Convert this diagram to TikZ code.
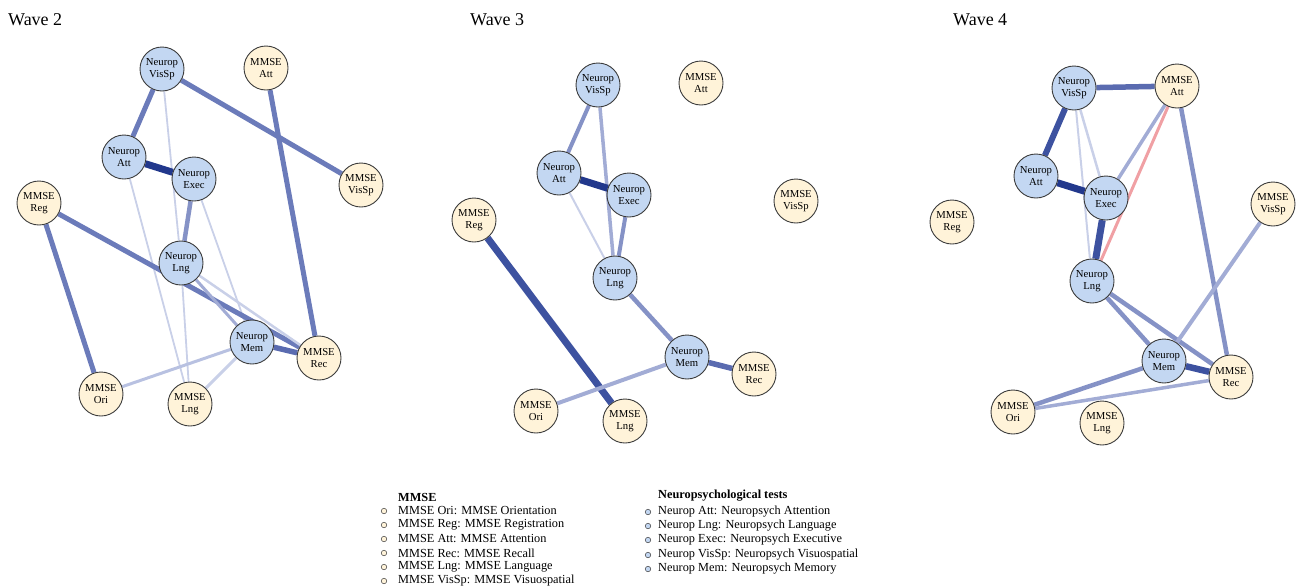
\documentclass[tikz,border=0pt]{standalone}
\usepackage{fontspec}
\setmainfont{Liberation Serif}
\usetikzlibrary{backgrounds}
\definecolor{nfill}{HTML}{C3D7F2}
\definecolor{mfill}{HTML}{FFF3D9}
\definecolor{nborder}{HTML}{3C3C3C}
\definecolor{eA}{HTML}{22388C}
\definecolor{eB}{HTML}{3D52A0}
\definecolor{eC}{HTML}{5A6BB0}
\definecolor{eD}{HTML}{6B7BBA}
\definecolor{eE}{HTML}{8592C6}
\definecolor{eF}{HTML}{A2ACD5}
\definecolor{eH}{HTML}{B8C1E1}
\definecolor{eG}{HTML}{C9D0E8}
\definecolor{eR}{HTML}{F0A0A4}
\begin{document}
\begin{tikzpicture}[x=1pt,y=-1pt,
 base/.style={circle,draw=nborder,line width=0.9pt,minimum size=44pt,inner sep=0pt,align=center,font=\fontsize{10.7}{12.2}\selectfont},
 neu/.style={base,fill=nfill},
 mms/.style={base,fill=mfill},
 ln/.style 2 args={line width=#1pt,draw=#2},
 wtitle/.style={anchor=west,font=\fontsize{18}{20}\selectfont,inner sep=0pt},
 legtext/.style={anchor=west,font=\fontsize{12.3}{14}\selectfont,inner sep=0pt},
 leghead/.style={anchor=west,font=\fontsize{12.3}{14}\selectfont\bfseries,inner sep=0pt},
 dotm/.style={circle,draw=nborder,line width=0.5pt,fill=mfill,minimum size=5.5pt,inner sep=0pt},
 dotn/.style={circle,draw=nborder,line width=0.5pt,fill=nfill,minimum size=5.5pt,inner sep=0pt}]
\useasboundingbox (0,0) rectangle (1301,587);

% titles
\node[wtitle] (t2) at (8,20) {Wave 2};
\node[wtitle] (t3) at (470,20) {Wave 3};
\node[wtitle] (t4) at (953,20) {Wave 4};

% ---------- Wave 2 ----------
\node[neu] (aNV) at (162,69) {Neurop\\VisSp};
\node[mms] (aMA) at (266,68) {MMSE\\Att};
\node[neu] (aNA) at (124,157) {Neurop\\Att};
\node[neu] (aNE) at (194,179) {Neurop\\Exec};
\node[mms] (aMV) at (361,185) {MMSE\\VisSp};
\node[mms] (aMG) at (39,203) {MMSE\\Reg};
\node[neu] (aNL) at (181,263) {Neurop\\Lng};
\node[neu] (aNM) at (252,342) {Neurop\\Mem};
\node[mms] (aMR) at (319,358) {MMSE\\Rec};
\node[mms] (aMO) at (101,394) {MMSE\\Ori};
\node[mms] (aML) at (190,404) {MMSE\\Lng};

% ---------- Wave 3 ----------
\node[neu] (bNV) at (598,85) {Neurop\\VisSp};
\node[mms] (bMA) at (701,83) {MMSE\\Att};
\node[neu] (bNA) at (559,173) {Neurop\\Att};
\node[neu] (bNE) at (629,195) {Neurop\\Exec};
\node[mms] (bMV) at (796,201) {MMSE\\VisSp};
\node[mms] (bMG) at (474,220) {MMSE\\Reg};
\node[neu] (bNL) at (615,278) {Neurop\\Lng};
\node[neu] (bNM) at (687,357) {Neurop\\Mem};
\node[mms] (bMR) at (754,374) {MMSE\\Rec};
\node[mms] (bMO) at (536,411) {MMSE\\Ori};
\node[mms] (bML) at (625,421) {MMSE\\Lng};

% ---------- Wave 4 ----------
\node[neu] (cNV) at (1074,88) {Neurop\\VisSp};
\node[mms] (cMA) at (1177,86) {MMSE\\Att};
\node[neu] (cNA) at (1036,176) {Neurop\\Att};
\node[neu] (cNE) at (1106,198) {Neurop\\Exec};
\node[mms] (cMV) at (1273,204) {MMSE\\VisSp};
\node[mms] (cMG) at (952,222) {MMSE\\Reg};
\node[neu] (cNL) at (1092,281) {Neurop\\Lng};
\node[neu] (cNM) at (1164,361) {Neurop\\Mem};
\node[mms] (cMR) at (1231,377) {MMSE\\Rec};
\node[mms] (cMO) at (1013,412) {MMSE\\Ori};
\node[mms] (cML) at (1102,423) {MMSE\\Lng};

\begin{pgfonlayer}{background}
% wave 2 edges
\draw[ln={5}{eD}] (aNV) -- (aNA);
\draw[ln={5}{eD}] (aNV) -- (aMV);
\draw[ln={1.8}{eG}] (aNV) -- (aNL);
\draw[ln={7}{eA}] (aNA) -- (aNE);
\draw[ln={1.8}{eG}] (aNA) -- (aML);
\draw[ln={4.5}{eE}] (aNE) -- (aNL);
\draw[ln={1.8}{eG}] (aNE) -- (aNM);
\draw[ln={5}{eD}] (aMG) -- (aMR);
\draw[ln={5}{eD}] (aMG) -- (aMO);
\draw[ln={3}{eF}] (aNL) -- (aNM);
\draw[ln={2.5}{eG}] (aNL) -- (aMR);
\draw[ln={1.8}{eG}] (aNL) -- (aML);
\draw[ln={5.5}{eC}] (aNM) -- (aMR);
\draw[ln={3}{eH}] (aNM) -- (aMO);
\draw[ln={3}{eG}] (aNM) -- (aML);
\draw[ln={5}{eD}] (aMA) -- (aMR);
% wave 3 edges
\draw[ln={4}{eE}] (bNV) -- (bNA);
\draw[ln={3.5}{eF}] (bNV) -- (bNL);
\draw[ln={7}{eA}] (bNA) -- (bNE);
\draw[ln={2}{eG}] (bNA) -- (bNL);
\draw[ln={4}{eE}] (bNE) -- (bNL);
\draw[ln={7}{eB}] (bMG) -- (bML);
\draw[ln={4.5}{eE}] (bNL) -- (bNM);
\draw[ln={5.5}{eC}] (bNM) -- (bMR);
\draw[ln={4}{eF}] (bNM) -- (bMO);
% wave 4 edges
\draw[ln={5.5}{eC}] (cNV) -- (cMA);
\draw[ln={6}{eB}] (cNV) -- (cNA);
\draw[ln={2}{eG}] (cNV) -- (cNL);
\draw[ln={2.5}{eG}] (cNV) -- (cNE);
\draw[ln={7}{eA}] (cNA) -- (cNE);
\draw[ln={3.5}{eF}] (cMA) -- (cNE);
\draw[ln={3}{eR}] (cMA) -- (cNL);
\draw[ln={4.5}{eE}] (cMA) -- (cMR);
\draw[ln={7}{eB}] (cNE) -- (cNL);
\draw[ln={4.5}{eE}] (cNL) -- (cNM);
\draw[ln={4.5}{eE}] (cNL) -- (cMR);
\draw[ln={4}{eF}] (cMV) -- (cNM);
\draw[ln={6.5}{eB}] (cNM) -- (cMR);
\draw[ln={4.5}{eE}] (cNM) -- (cMO);
\draw[ln={3.5}{eF}] (cMR) -- (cMO);
\end{pgfonlayer}

% ---------- Legend ----------
\node[leghead] (lh1) at (398,497) {MMSE};
\node[dotm] (d1) at (384,511) {};
\node[legtext] (l1) at (398,511) {MMSE Ori: MMSE Orientation};
\node[dotm] (d2) at (384,525) {};
\node[legtext] (l2) at (398,525) {MMSE Reg: MMSE Registration};
\node[dotm] (d3) at (384,539) {};
\node[legtext] (l3) at (398,539) {MMSE Att: MMSE Attention};
\node[dotm] (d4) at (384,553) {};
\node[legtext] (l4) at (398,553) {MMSE Rec: MMSE Recall};
\node[dotm] (d5) at (384,567) {};
\node[legtext] (l5) at (398,567) {MMSE Lng: MMSE Language};
\node[dotm] (d6) at (384,581) {};
\node[legtext] (l6) at (398,581) {MMSE VisSp: MMSE Visuospatial};

\node[leghead] (lh2) at (658,496) {Neuropsychological tests};
\node[dotn] (n1) at (648,512) {};
\node[legtext] (m1) at (658,512) {Neurop Att: Neuropsych Attention};
\node[dotn] (n2) at (648,526) {};
\node[legtext] (m2) at (658,526) {Neurop Lng: Neuropsych Language};
\node[dotn] (n3) at (648,540) {};
\node[legtext] (m3) at (658,540) {Neurop Exec: Neuropsych Executive};
\node[dotn] (n4) at (648,555) {};
\node[legtext] (m4) at (658,555) {Neurop VisSp: Neuropsych Visuospatial};
\node[dotn] (n5) at (648,569) {};
\node[legtext] (m5) at (658,569) {Neurop Mem: Neuropsych Memory};
\end{tikzpicture}
\end{document}
